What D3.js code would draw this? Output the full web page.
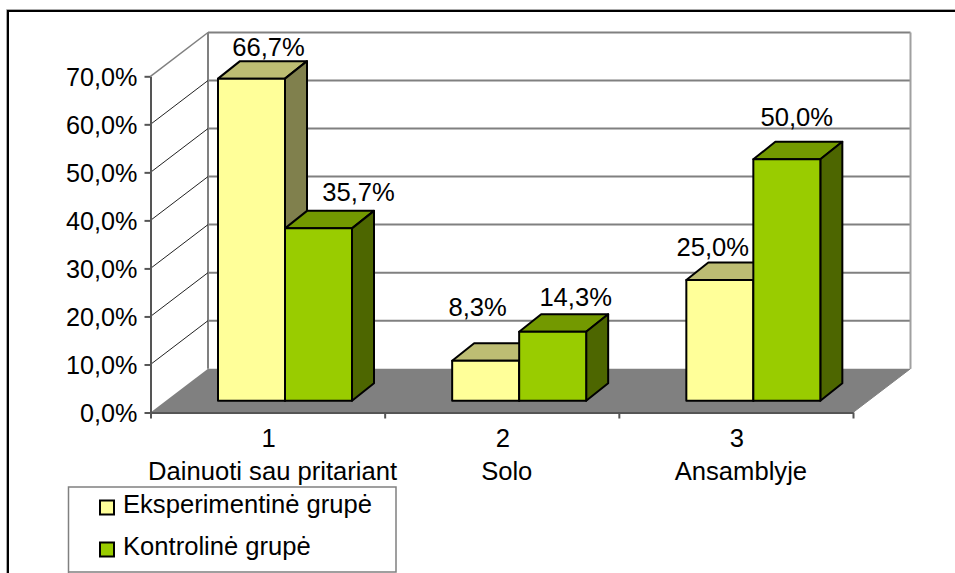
<!doctype html>
<html>
<head>
<style>
    html, body { margin: 0; padding: 0; background: #fff; }
    svg { display: block; }
    text { font-family: "Liberation Sans", Arial, sans-serif; font-size: 25.6px; fill: #000; }
    .axis text { font-size: 25.2px; }
    .axis .domain, .axis line { stroke: #555; stroke-width: 2px; }
</style>
<script src="https://d3js.org/d3.v7.min.js"></script>
</head>
<body>
<svg width="955" height="573"></svg>
<script>
    var categories = ["1", "2", "3"];
    var categoryNames = ["Dainuoti sau pritariant", "Solo", "Ansamblyje"];
    var seriesNames = ["Eksperimentinė grupė", "Kontrolinė grupė"];
    var eksperimentine = [66.7, 8.3, 25.0];
    var kontroline = [35.7, 14.3, 50.0];
    var yTicks = [0, 10, 20, 30, 40, 50, 60, 70];

    // data labels were moved by hand in the original, so each has its own nudge
    var labelNudge = [
        [[17, -23], [-8, -45], [-7, -24]],
        [[40, -27], [23, -26], [10, -33]]
    ];

    var fills = [
        { front: "#ffff99", top: "#bdbd73", side: "#80804d" },
        { front: "#99cc00", top: "#739900", side: "#4d6600" }
    ];

    var svg = d3.select("svg");
    var fmt = function(v) { return v.toFixed(1).replace(".", ",") + "%"; };

    var x = d3.scaleBand().domain(categories).range([150.5, 853]);
    var xEdge = d3.scalePoint().domain([0, 1, 2, 3]).range([150.5, 853]);
    var x1 = d3.scaleBand().domain([0, 1]).range([67.5, 201.5]);
    var y = d3.scaleLinear().domain([0, 70]).range([412.5, 76.3]);
    var yBar = d3.scaleLinear().domain([0, 70]).range([400.8, 62.7]);

    var depthX = 57.5, depthY = 43.8;
    var barDepthX = 22, barDepthY = 17.5;

    // outer frame, only top and left are inside the picture
    svg.append("path").attr("d", "M6.5,573V9.5H955").attr("fill", "none").attr("stroke", "#aaa").attr("stroke-width", 1);
    svg.append("path").attr("d", "M8,573V11H955").attr("fill", "none").attr("stroke", "#000").attr("stroke-width", 2);

    // back wall
    svg.selectAll(".grid").data(yTicks.slice(1)).enter().append("line")
        .attr("class", "grid")
        .attr("x1", 150.5 + depthX).attr("x2", 853 + depthX)
        .attr("y1", function(d) { return y(d) - depthY; })
        .attr("y2", function(d) { return y(d) - depthY; })
        .attr("stroke", "#808080").attr("stroke-width", 2);
    svg.append("line").attr("x1", 150.5 + depthX).attr("x2", 150.5 + depthX)
        .attr("y1", y(70) - depthY).attr("y2", y(0) - depthY)
        .attr("stroke", "#808080").attr("stroke-width", 2);
    svg.append("line").attr("x1", 853 + depthX).attr("x2", 853 + depthX)
        .attr("y1", y(70) - depthY).attr("y2", y(0) - depthY)
        .attr("stroke", "#a0a0a0").attr("stroke-width", 2);

    // side wall lines
    svg.selectAll(".diag").data(yTicks.slice(1)).enter().append("line")
        .attr("class", "diag")
        .attr("x1", 150.5).attr("x2", 150.5 + depthX)
        .attr("y1", function(d) { return y(d); })
        .attr("y2", function(d) { return y(d) - depthY; })
        .attr("stroke", function(d) { return d == 70 ? "#808080" : "#222"; })
        .attr("stroke-width", function(d) { return d == 70 ? 1.5 : 1; });

    // floor
    svg.append("polygon")
        .attr("points", [[150.5, y(0)], [150.5 + depthX, y(0) - depthY], [853 + depthX, y(0) - depthY], [853, y(0)]].join(" "))
        .attr("fill", "#808080");
    svg.append("line").attr("x1", 853).attr("x2", 853 + depthX)
        .attr("y1", y(0)).attr("y2", y(0) - depthY)
        .attr("stroke", "#808080").attr("stroke-width", 1);

    // axes
    var yAxis = svg.append("g").attr("class", "axis")
        .attr("transform", "translate(150.5,0)")
        .call(d3.axisLeft(y).tickValues(yTicks).tickSize(6).tickSizeOuter(0).tickPadding(7).tickFormat(fmt));
    yAxis.selectAll("text").attr("dy", "0.36em").style("font-family", "Liberation Sans");

    svg.append("g").attr("class", "axis")
        .attr("transform", "translate(0,412.5)")
        .call(d3.axisBottom(xEdge).tickSize(6).tickSizeOuter(0).tickFormat(""))
        .selectAll(".domain").attr("stroke", "#333");

    // bars
    [eksperimentine, kontroline].forEach(function(values, s) {
        var g = svg.append("g");
        var bw = x1.bandwidth();
        var bars = g.selectAll("g").data(values).enter().append("g");
        function left(d, i) { return x(categories[i]) + x1(s); }

        bars.append("polygon")
            .attr("points", function(d, i) {
                var l = left(d, i), t = yBar(d);
                return [[l, t], [l + barDepthX, t - barDepthY], [l + bw + barDepthX, t - barDepthY], [l + bw, t]].join(" ");
            })
            .attr("fill", fills[s].top);
        bars.append("polygon")
            .attr("points", function(d, i) {
                var r = left(d, i) + bw, t = yBar(d), b = yBar(0);
                return [[r, t], [r + barDepthX, t - barDepthY], [r + barDepthX, b - barDepthY], [r, b]].join(" ");
            })
            .attr("fill", fills[s].side);
        bars.append("rect")
            .attr("x", left)
            .attr("y", function(d) { return yBar(d); })
            .attr("width", bw)
            .attr("height", function(d) { return yBar(0) - yBar(d); })
            .attr("fill", fills[s].front);
        bars.selectAll("polygon, rect")
            .attr("stroke", "#000").attr("stroke-width", 2).attr("stroke-linejoin", "round");
    });

    // value labels on top of everything
    [eksperimentine, kontroline].forEach(function(values, s) {
        svg.append("g").selectAll("text").data(values).enter().append("text")
            .attr("text-anchor", "middle")
            .attr("x", function(d, i) { return x(categories[i]) + x1(s) + x1.bandwidth() / 2 + labelNudge[s][i][0]; })
            .attr("y", function(d, i) { return yBar(d) + labelNudge[s][i][1]; })
            .text(fmt);
    });

    // category labels, two lines
    svg.append("g").selectAll("text").data(categories).enter().append("text")
        .attr("text-anchor", "middle")
        .attr("x", function(d) { return x(d) + x.bandwidth() / 2 + 1; })
        .attr("y", 447)
        .text(function(d) { return d; });
    svg.append("g").selectAll("text").data(categoryNames).enter().append("text")
        .attr("text-anchor", "middle")
        .attr("x", function(d, i) { return x(categories[i]) + x.bandwidth() / 2 + 5; })
        .attr("y", 480)
        .text(function(d) { return d; });

    // legend
    svg.append("path").attr("d", "M68.5,573V487H396V572H68.5")
        .attr("fill", "#fff").attr("stroke", "#808080").attr("stroke-width", 1.5);
    var legendY = d3.scalePoint().domain(seriesNames).range([513, 555]);
    var legend = svg.append("g").selectAll("g").data(seriesNames).enter().append("g");
    legend.append("rect")
        .attr("x", 100).attr("y", function(d) { return legendY(d) - 12.5; })
        .attr("width", 14).attr("height", 14)
        .attr("fill", function(d, i) { return fills[i].front; })
        .attr("stroke", "#000").attr("stroke-width", 2);
    legend.append("text")
        .attr("x", 123).attr("y", function(d) { return legendY(d); })
        .text(function(d) { return d; });
</script>
</body>
</html>
